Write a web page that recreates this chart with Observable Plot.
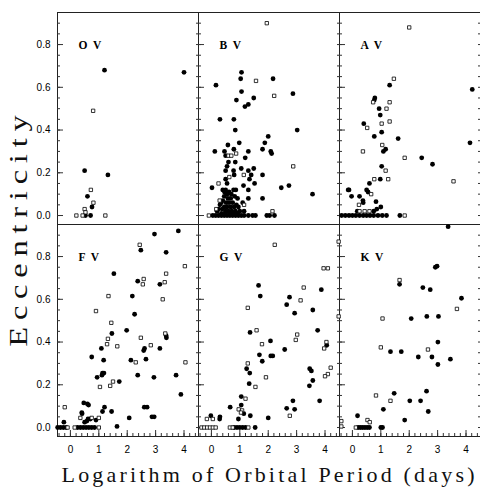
<!DOCTYPE html>
<html>
<head>
<meta charset="utf-8">
<script src="https://cdn.jsdelivr.net/npm/d3@7"></script>
<script src="https://cdn.jsdelivr.net/npm/@observablehq/plot@0.6"></script>
<style>
  html, body { margin: 0; padding: 0; background: white; overflow: hidden; }
  .title-text { font-family: 'Liberation Serif'; font-weight: normal; }
</style>
</head>
<body>
<div id="chart"></div>
<script>
// Panel names (spectral class, luminosity class V)
const panelNames = ["O V", "B V", "A V", "F V", "G V", "K V"];

// [log P (days), eccentricity] — filled dots and open squares per panel
const O_filled = [[1.20,0.68],[4.00,0.67],[0.50,0.21],[1.32,0.19],[0.60,0.09],[0.76,0.04],[0.53,0],[0.71,0]];
const O_open = [[0.80,0.49],[0.72,0.12],[0.81,0.06],[0.50,0.03],[0.53,0.015],[0.21,0],[0.43,0],[1.23,0]];

const B_filled = [
  [1.06,0.67],[1.03,0.64],[2.17,0.64],[0.16,0.61],[1.06,0.58],[2.87,0.57],[1.49,0.55],[0.88,0.54],[1.30,0.52],[1.18,0.51],
  [0.30,0.45],[0.79,0.45],[0.84,0.40],[3.02,0.40],[2.00,0.37],[0.98,0.34],[1.88,0.34],[0.58,0.33],[1.80,0.31],[0.12,0.30],
  [0.79,0.31],[0.46,0.30],[0.50,0.28],[1.30,0.30],[2.09,0.30],[2.12,0.29],[1.19,0.27],[0.84,0.25],[0.60,0.25],[0.55,0.23],
  [1.05,0.22],[1.49,0.22],[0.78,0.21],[0.50,0.21],[1.30,0.21],[0.80,0.19],[1.40,0.19],[1.80,0.19],[0.50,0.17],[1.34,0.17],
  [1.52,0.15],[0.55,0.15],[0.02,0.13],[1.13,0.14],[2.46,0.13],[2.73,0.14],[3.56,0.10],[0.78,0.12],[0.86,0.12],[1.30,0.12],
  [0.46,0.11],[0.55,0.10],[1.30,0.08],[1.80,0.08],[0.35,0.06],[1.10,0.06],
  [0.40,0.12],[0.50,0.12],[0.62,0.11],[0.70,0.10],[0.45,0.09],[0.58,0.08],[0.68,0.08],[0.82,0.09],[0.92,0.08],[0.40,0.07],
  [0.52,0.06],[0.62,0.06],[0.75,0.06],[0.88,0.05],[0.30,0.05],[0.45,0.04],[0.55,0.04],[0.68,0.04],[0.80,0.04],[0.95,0.04],
  [0.25,0.03],[0.38,0.03],[0.50,0.02],[0.60,0.02],[0.72,0.02],[0.85,0.02],[1.00,0.02],[0.20,0.02],[0.35,0.01],[0.48,0.01],
  [0.65,0.01],[0.78,0.01],[0.92,0.01],[1.15,0.02],
  [0.05,0],[0.15,0],[0.25,0],[0.35,0],[0.45,0],[0.55,0],[0.65,0],[0.75,0],[0.85,0],[0.95,0],[1.05,0],[1.15,0],[1.30,0],
  [1.45,0],[1.55,0],[1.95,0],[2.05,0],[2.22,0]
];
const B_open = [[1.95,0.90],[1.57,0.63],[2.21,0.56],[2.88,0.23],[0.60,0.28],[0.70,0.28],[0.87,0.29],[0.25,0.15],[1.14,0.19],
  [0.63,0.18],[2.15,0.02],[-0.09,0],[0.29,0.07],[0.17,0.03],[1.15,0.05]];

const A_filled = [[1.31,0.61],[4.22,0.59],[0.79,0.55],[0.77,0.54],[0.94,0.50],[0.98,0.47],[0.40,0.43],[1.03,0.39],[0.77,0.37],
  [1.61,0.36],[4.14,0.34],[1.17,0.31],[1.09,0.30],[2.44,0.27],[2.82,0.24],[1.03,0.23],[0.98,0.17],[0.60,0.15],[-0.15,0.12],
  [-0.12,0.12],[0.50,0.12],[0.55,0.11],[-0.03,0.09],[0.25,0.09],[0.37,0.07],[0.38,0.06],[0.83,0.065],[1.00,0.04],[0.86,0.03],
  [0.75,0.02],[0.17,0.02],
  [-0.38,0],[-0.25,0],[-0.12,0],[0.0,0],[0.12,0],[0.25,0],[0.38,0],[0.50,0],[0.62,0],[0.75,0],[0.90,0],[1.05,0],[1.20,0],[1.67,0]];
const A_open = [[2.0,0.88],[1.46,0.64],[0.73,0.53],[1.31,0.53],[1.20,0.50],[1.03,0.43],[1.31,0.44],[0.52,0.41],[1.05,0.33],
  [0.37,0.30],[1.84,0.27],[1.17,0.21],[0.77,0.17],[1.26,0.17],[3.56,0.16],[0.66,0.10],[0.23,0.05],[0.25,0.02],[0.43,0.02],
  [0.60,0.02],[1.84,0]];

const F_filled = [[2.96,0.905],[3.80,0.92],[2.48,0.83],[3.37,0.82],[1.53,0.72],[2.37,0.685],[3.15,0.67],[2.18,0.615],[2.26,0.53],
  [1.46,0.44],[1.98,0.455],[3.37,0.43],[3.38,0.42],[1.09,0.37],[2.61,0.37],[3.15,0.37],[2.58,0.36],[0.75,0.33],[1.17,0.315],
  [2.13,0.315],[2.66,0.32],[1.13,0.255],[1.18,0.255],[1.11,0.245],[0.94,0.235],[1.72,0.215],[2.37,0.245],[2.94,0.235],[3.72,0.245],
  [3.89,0.155],[0.47,0.115],[0.60,0.11],[0.64,0.105],[1.20,0.095],[0.40,0.07],[0.41,0.065],[1.13,0.075],[1.45,0.075],[2.60,0.095],
  [2.70,0.095],[2.07,0.045],[2.87,0.05],[2.95,0.05],[1.64,0.005],[-0.23,0.025],[0.62,0.04],[0.58,0.03],[0.50,0.025],[0.90,0.035],
  [0.70,0.04],
  [-0.45,0],[-0.35,0],[-0.25,0],[-0.15,0],[0.25,0],[0.35,0],[0.45,0],[0.55,0],[0.65,0],[0.75,0],[0.85,0]];
const F_open = [[2.44,0.855],[4.03,0.755],[3.37,0.72],[2.58,0.695],[2.55,0.67],[3.32,0.68],[1.34,0.615],[3.25,0.60],[0.90,0.545],
  [1.44,0.49],[1.32,0.415],[1.29,0.39],[1.65,0.38],[2.48,0.42],[2.83,0.385],[3.34,0.44],[4.05,0.305],[2.30,0.305],[1.50,0.215],
  [1.40,0.195],[1.04,0.19],[-0.20,0.095],[0.35,0.045],[0.75,0.045],[1.00,0.045],[-0.10,0],[0.15,0],[1.00,0]];

const G_filled = [[1.66,0.665],[1.72,0.615],[2.75,0.61],[3.87,0.645],[2.65,0.575],[3.57,0.55],[2.93,0.535],[1.36,0.445],[3.74,0.455],
  [2.08,0.405],[4.06,0.385],[2.58,0.365],[1.69,0.34],[2.09,0.335],[2.16,0.335],[1.79,0.31],[1.24,0.275],[1.35,0.255],[3.46,0.275],
  [3.52,0.265],[3.57,0.22],[3.45,0.195],[1.33,0.205],[1.05,0.145],[2.87,0.125],[3.81,0.125],[1.05,0.105],[0.66,0.095],[2.65,0.09],
  [2.93,0.085],[1.14,0.065],[1.37,0.055],[2.00,0.045],[-0.02,0.055],[0.30,0.05],[0.29,0.04],[0.95,0.04],[1.54,0],
  [0.80,0],[0.90,0],[1.00,0],[1.10,0],[1.20,0]];
const G_open = [[2.23,0.855],[4.48,0.87],[3.95,0.745],[4.10,0.745],[3.25,0.655],[3.14,0.595],[1.28,0.56],[4.48,0.52],[1.59,0.455],
  [3.02,0.435],[2.97,0.41],[4.05,0.40],[3.97,0.37],[1.78,0.39],[1.28,0.30],[4.20,0.28],[4.10,0.25],[4.00,0.24],[1.92,0.235],
  [1.55,0.19],[1.20,0.135],[0.96,0.085],[1.08,0.08],[1.04,0.07],[2.76,0.055],[-0.16,0.04],[0.05,0.04],[-0.35,0],[-0.25,0],
  [-0.15,0],[-0.05,0],[0.05,0],[0.15,0],[0.65,0],[0.75,0],[1.30,0]];

const K_filled = [[3.37,0.94],[2.98,0.755],[2.92,0.75],[1.66,0.67],[2.48,0.655],[2.74,0.645],[3.84,0.605],[2.07,0.51],[2.62,0.52],
  [3.03,0.52],[3.01,0.40],[1.34,0.355],[1.72,0.355],[2.32,0.33],[2.80,0.33],[3.45,0.32],[3.01,0.295],[1.47,0.16],[2.61,0.17],
  [2.02,0.125],[2.40,0.125],[1.09,0.085],[2.67,0.075],[0.18,0.055],[1.84,0.035],
  [0.20,0],[0.28,0],[0.36,0],[0.44,0],[0.52,0],[0.60,0],[1.00,0],[1.06,0]];
const K_open = [[1.66,0.69],[3.68,0.555],[1.06,0.51],[1.00,0.375],[2.66,0.365],[0.83,0.15],[1.34,0.125],[-0.39,0.03],
  [-0.39,0.005],[0.53,0.035],[0.61,0.025],[0.12,0]];

// Tick values
const yLabelTicks = [0, 0.2, 0.4, 0.6, 0.8];
const yMinorTicks = d3.range(0, 19).map(i => i * 0.05);
const xLabelTicks = [0, 1, 2, 3, 4];
const xMinorTicks = d3.range(-2, 23).map(i => i * 0.2);

const xTitle = "Logarithm of Orbital Period (days)";
const yTitle = "Eccentricity";

// Build tables
const groups = [
  [O_filled, O_open], [B_filled, B_open], [A_filled, A_open],
  [F_filled, F_open], [G_filled, G_open], [K_filled, K_open]
];
const panels = panelNames.map((name, i) => ({name, col: i % 3, row: Math.floor(i / 3)}));
const filled = [], open = [];
groups.forEach(([f, o], i) => {
  const {col, row} = panels[i];
  f.forEach(([x, y]) => filled.push({x, y, col, row}));
  o.forEach(([x, y]) => open.push({x, y, col, row}));
});

const plot = Plot.plot({
  width: 480,
  height: 488,
  marginLeft: 57,
  marginRight: 0,
  marginTop: 11.5,
  marginBottom: 52,
  x: {domain: [-0.455, 4.51]},
  y: {domain: [-0.042, 0.95]},
  fx: {domain: [0, 1, 2], padding: 0, axis: null},
  fy: {domain: [0, 1], padding: 0, axis: null},
  style: {fontFamily: "'Liberation Sans', Arial, sans-serif", fontSize: "10px", background: "white", color: "#000"},
  marks: [
    Plot.frame({stroke: "#222", strokeWidth: 1}),
    Plot.axisY(yMinorTicks, {anchor: "left", tickSize: -3, text: null, label: null, facetAnchor: null, stroke: "#333"}),
    Plot.axisY(yLabelTicks, {anchor: "left", tickSize: -6, text: null, label: null, facetAnchor: null, stroke: "#333"}),
    Plot.axisY(yMinorTicks, {anchor: "right", tickSize: -3, text: null, label: null, facetAnchor: null, stroke: "#333"}),
    Plot.axisY(yLabelTicks, {anchor: "left", tickSize: 0, tickPadding: 7, label: null, fill: "#000"}),
    Plot.axisX(xMinorTicks, {anchor: "bottom", tickSize: -3, text: null, label: null, stroke: "#333"}),
    Plot.axisX(xLabelTicks, {anchor: "bottom", tickSize: -6, text: null, label: null, stroke: "#333"}),
    Plot.axisX(xLabelTicks, {anchor: "bottom", tickSize: 0, tickPadding: 9, label: null, fill: "#000"}),
    Plot.dot(filled, {x: "x", y: "y", fx: "col", fy: "row", r: 2.4, fill: "#000", stroke: "none"}),
    Plot.dot(open, {x: "x", y: "y", fx: "col", fy: "row", symbol: "square", r: 1.9, fill: "white", stroke: "#000", strokeWidth: 0.8}),
    Plot.text(panels, {fx: "col", fy: "row", text: "name", frameAnchor: "top-left", dx: 21, dy: 28,
      textAnchor: "start", fontFamily: "'Liberation Serif', serif", fontWeight: "bold", fontSize: 11.5, fill: "#000",
      className: "panel-label"})
  ]
});

const svg = d3.select(plot);
svg.selectAll(".panel-label text").attr("word-spacing", 3);
svg.append("text")
  .attr("class", "title-text")
  .attr("x", 268).attr("y", 482)
  .attr("text-anchor", "middle")
  .attr("font-size", 22)
  .attr("fill", "#111")
  .attr("textLength", 413)
  .attr("lengthAdjust", "spacing")
  .text(xTitle);
svg.append("text")
  .attr("class", "title-text")
  .attr("transform", "translate(27,231) rotate(-90) scale(1.3,1)")
  .attr("text-anchor", "middle")
  .attr("font-size", 25)
  .attr("fill", "#111")
  .attr("textLength", 178)
  .attr("lengthAdjust", "spacing")
  .text(yTitle);

document.getElementById("chart").appendChild(plot);
</script>
</body>
</html>
